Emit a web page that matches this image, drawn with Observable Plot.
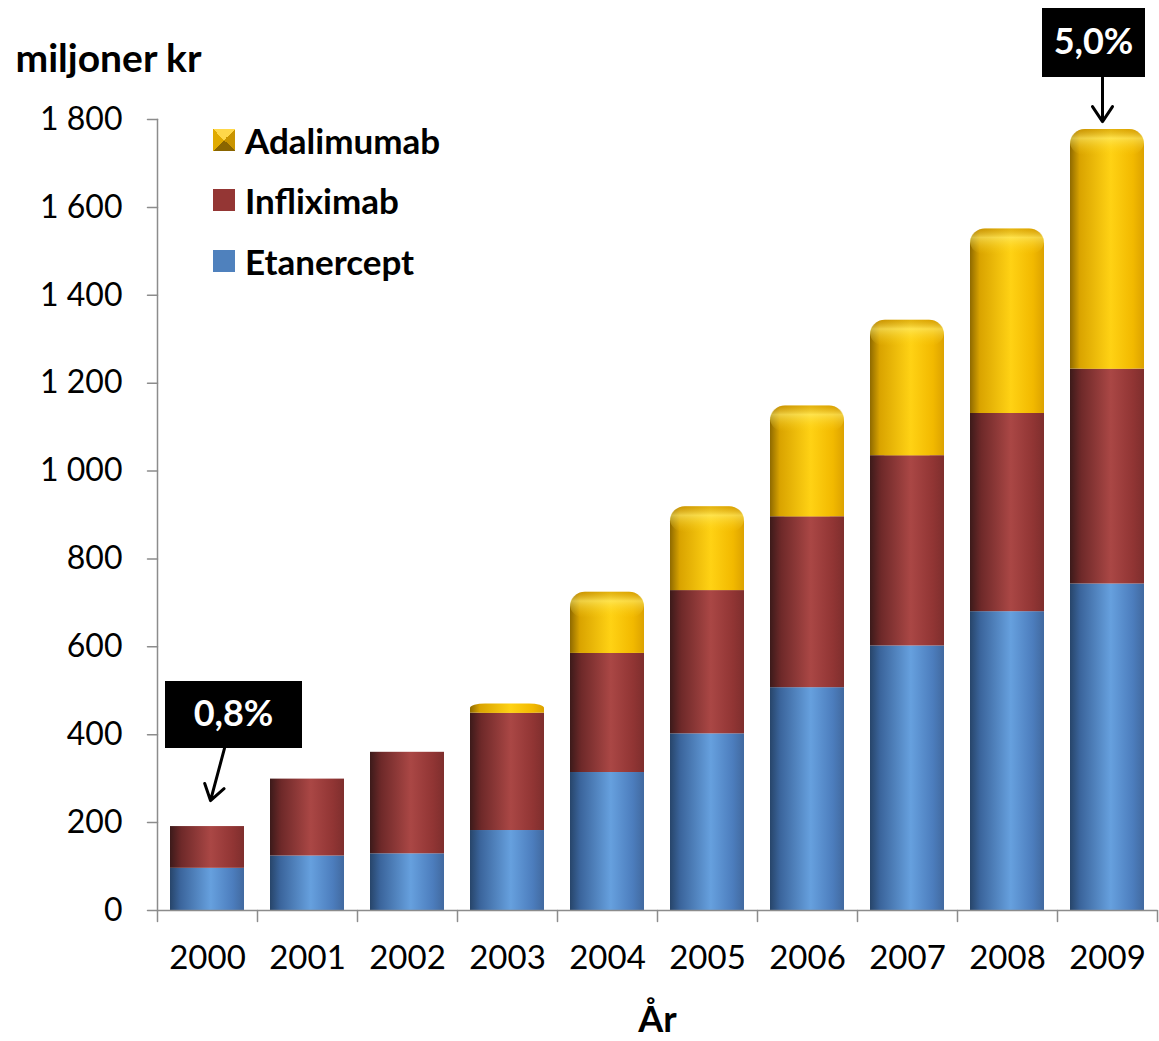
<!DOCTYPE html>
<html><head><meta charset="utf-8">
<script src="https://cdn.jsdelivr.net/npm/d3@7"></script>
<script src="https://cdn.jsdelivr.net/npm/@observablehq/plot@0.6"></script>
<style>
body{margin:0;background:#fff;}
#wrap{position:relative;width:1159px;height:1041px;font-family:Lato,sans-serif;color:#000;}
.item{position:absolute;left:213px;display:flex;align-items:center;white-space:nowrap;font-weight:bold;font-size:35px;height:40px;}
.sw{width:22px;height:22px;margin-right:10px;flex:none;}
</style></head><body>
<svg width="0" height="0" style="position:absolute">
<defs>
 <linearGradient id="gBlue" x1="0" x2="1" y1="0" y2="0">
  <stop offset="0" stop-color="#27456a"/><stop offset="0.14" stop-color="#3b659c"/>
  <stop offset="0.55" stop-color="#66a0de"/><stop offset="0.85" stop-color="#4c7dbd"/><stop offset="1" stop-color="#41699f"/>
 </linearGradient>
 <linearGradient id="gRed" x1="0" x2="1" y1="0" y2="0">
  <stop offset="0" stop-color="#3c1a1a"/><stop offset="0.15" stop-color="#6e2929"/>
  <stop offset="0.55" stop-color="#aa4745"/><stop offset="0.85" stop-color="#913534"/><stop offset="1" stop-color="#7e2e2d"/>
 </linearGradient>
 <linearGradient id="gGold" x1="0" x2="1" y1="0" y2="0">
  <stop offset="0" stop-color="#8f6a00"/><stop offset="0.13" stop-color="#d9a300"/>
  <stop offset="0.55" stop-color="#ffd214"/><stop offset="0.85" stop-color="#f2b900"/><stop offset="1" stop-color="#dca200"/>
 </linearGradient>
 <linearGradient id="gGloss" x1="0" x2="0" y1="0" y2="1">
  <stop offset="0" stop-color="#b07800" stop-opacity="0.35"/><stop offset="0.35" stop-color="#fff27a" stop-opacity="0.55"/>
  <stop offset="1" stop-color="#ffd214" stop-opacity="0"/>
 </linearGradient>
</defs></svg>
<div id="wrap"></div>
<script>
const years = ["2000","2001","2002","2003","2004","2005","2006","2007","2008","2009"];
const etanercept = [96,124,129,182,314,402,507,602,680,743];
const infliximab = [95,175,231,267,271,326,389,433,451,489];
const adalimumab = [0,0,0,21,139,191,252,308,420,545];
const seriesNames = ["Adalimumab","Infliximab","Etanercept"];
const yTicks = [0,200,400,600,800,1000,1200,1400,1600,1800];
const annotYears = ["2000","2009"];
const annotLabels = ["0,8%","5,0%"];
const yTitle = "miljoner kr";
const xTitle = "År";

const rows = years.map((year,i) => ({
  year, et: etanercept[i], inf: infliximab[i], ada: adalimumab[i],
  b1: etanercept[i], b2: etanercept[i] + infliximab[i],
  total: etanercept[i] + infliximab[i] + adalimumab[i]
}));
const adaRows = rows.filter(d => d.ada > 0);
const glossRows = adaRows.filter(d => d.ada > 60);
const totalOf = Object.fromEntries(rows.map(d => [d.year, d.total]));
const annots = annotYears.map((year,i) => ({year, label: annotLabels[i], total: totalOf[year]}));

const fmt = d3.formatLocale({thousands:"\u00a0", grouping:[3], decimal:",", currency:["",""]}).format(",");
const FONT = "Lato, sans-serif";
const AX = "#8c8c8c";
const lineShape = {draw(ctx, l){ ctx.moveTo(0,0); ctx.lineTo(0,-l); }};
const arrowShape = {draw(ctx, l){ ctx.moveTo(0,0); ctx.lineTo(0,-l); ctx.moveTo(-10,-l+15); ctx.lineTo(0,-l); ctx.lineTo(10,-l+15); }};
const boxSymbol = (w,h) => ({draw(ctx){ ctx.rect(-w/2,-h/2,w,h); }});

// annotation styling (pixel offsets relative to the bar top)
const annotStyle = [
  {bdx: 26, bdy: -112, w: 137, h: 67, adx: 3, ady: -26, len: 54, rot: 195},
  {bdx: -14, bdy: -87, w: 103, h: 69, adx: -5, ady: -8, len: 44, rot: 180}
];

const annotMarks = annots.flatMap((a,i) => {
  const s = annotStyle[i];
  return [
    Plot.dot([a], {x: "year", y: "total", dx: s.bdx, dy: s.bdy, symbol: boxSymbol(s.w, s.h), fill: "#000", stroke: "none", r: 10}),
    Plot.text([a], {x: "year", y: "total", text: "label", dx: s.bdx, dy: s.bdy, fill: "#fff", fontSize: 36, fontWeight: "bold", fontFamily: FONT, lineAnchor: "middle"}),
    Plot.vector([a], {x: "year", y: "total", dx: s.adx, dy: s.ady, length: s.len, rotate: s.rot, anchor: "end", shape: arrowShape, stroke: "#000", strokeWidth: 3})
  ];
});

const chart = Plot.plot({
  width: 1159, height: 1041,
  marginTop: 119, marginBottom: 131, marginLeft: 157, marginRight: 2,
  x: {type: "band", domain: years, paddingInner: 0.26, paddingOuter: 0.13, axis: null},
  y: {domain: [0,1800], axis: null},
  style: {fontFamily: FONT, background: "transparent", overflow: "visible"},
  marks: [
    Plot.barY(rows, {x: "year", y1: 0, y2: "b1", fill: "url(#gBlue)"}),
    Plot.barY(rows, {x: "year", y1: "b1", y2: "b2", fill: "url(#gRed)"}),
    Plot.barY(adaRows, {x: "year", y1: "b2", y2: "total", fill: "url(#gGold)", rx: 15}),
    Plot.barY(adaRows, {x: "year", y1: "b2", y2: d => d.b2 + d.ada / 2, fill: "url(#gGold)"}),
    Plot.barY(glossRows, {x: "year", y1: "total", y2: "total", insetBottom: -26, fill: "url(#gGloss)", rx: 15}),
    // axes
    Plot.ruleY([0], {stroke: AX, strokeWidth: 1.5}),
    Plot.frame({anchor: "left", stroke: AX, strokeWidth: 1.5}),
    Plot.vector(yTicks, {y: d => d, frameAnchor: "left", length: 10, rotate: -90, anchor: "start", shape: lineShape, stroke: AX, strokeWidth: 1.5}),
    Plot.vector(years, {x: d => d, y: 0, dx: -50, length: 11, rotate: 180, anchor: "start", shape: lineShape, stroke: AX, strokeWidth: 1.5}),
    Plot.vector(years.slice(-1), {x: d => d, y: 0, dx: 50, length: 11, rotate: 180, anchor: "start", shape: lineShape, stroke: AX, strokeWidth: 1.5}),
    Plot.text(yTicks, {y: d => d, text: d => fmt(d), frameAnchor: "left", textAnchor: "end", dx: -35, fontSize: 32, fontFamily: FONT, fill: "#000"}),
    Plot.text(years, {x: d => d, y: 0, text: d => d, dy: 48, fontSize: 33, fontFamily: FONT, fill: "#000"}),
    Plot.text([xTitle], {frameAnchor: "bottom", text: d => d, dy: 110, lineAnchor: "middle", fontSize: 36, fontWeight: "bold", fontFamily: FONT, fill: "#000"}),
    Plot.text([yTitle], {frameAnchor: "top-left", text: d => d, dx: -142, dy: -75, lineAnchor: "top", textAnchor: "start", fontSize: 39, fontWeight: "bold", fontFamily: FONT, fill: "#000"}),
    ...annotMarks
  ]
});
const wrap = document.getElementById("wrap");
wrap.appendChild(chart);

// legend
const swatches = {
  "Adalimumab": "conic-gradient(from -45deg, #ffd84a 0deg 90deg, #c99400 90deg 180deg, #8a6500 180deg 270deg, #e0aa00 270deg 360deg)",
  "Infliximab": "#943634",
  "Etanercept": "#4f81bd"
};
const rowY = [140, 200, 261];
seriesNames.forEach((name, i) => {
  const item = document.createElement("div");
  item.className = "item";
  item.style.top = (rowY[i] - 20) + "px";
  const sw = document.createElement("div");
  sw.className = "sw";
  sw.style.background = swatches[name];
  const t = document.createElement("span");
  t.textContent = name;
  item.appendChild(sw); item.appendChild(t);
  wrap.appendChild(item);
});
</script>
</body></html>
